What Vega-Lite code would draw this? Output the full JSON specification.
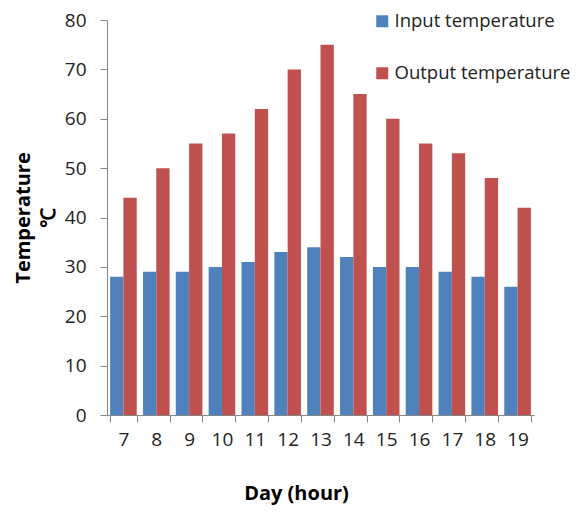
{
  "$schema": "https://vega.github.io/schema/vega-lite/v6.json",
  "width": 427,
  "height": 395,
  "autosize": "none",
  "padding": {"left": 107, "top": 20, "right": 42, "bottom": 97},
  "config": {"view": {"stroke": null}, "font": "Open Sans"},
  "data": {
    "values": [
      {"hour": 7, "series": "Input temperature", "temp": 28},
      {"hour": 8, "series": "Input temperature", "temp": 29},
      {"hour": 9, "series": "Input temperature", "temp": 29},
      {"hour": 10, "series": "Input temperature", "temp": 30},
      {"hour": 11, "series": "Input temperature", "temp": 31},
      {"hour": 12, "series": "Input temperature", "temp": 33},
      {"hour": 13, "series": "Input temperature", "temp": 34},
      {"hour": 14, "series": "Input temperature", "temp": 32},
      {"hour": 15, "series": "Input temperature", "temp": 30},
      {"hour": 16, "series": "Input temperature", "temp": 30},
      {"hour": 17, "series": "Input temperature", "temp": 29},
      {"hour": 18, "series": "Input temperature", "temp": 28},
      {"hour": 19, "series": "Input temperature", "temp": 26},
      {"hour": 7, "series": "Output temperature", "temp": 44},
      {"hour": 8, "series": "Output temperature", "temp": 50},
      {"hour": 9, "series": "Output temperature", "temp": 55},
      {"hour": 10, "series": "Output temperature", "temp": 57},
      {"hour": 11, "series": "Output temperature", "temp": 62},
      {"hour": 12, "series": "Output temperature", "temp": 70},
      {"hour": 13, "series": "Output temperature", "temp": 75},
      {"hour": 14, "series": "Output temperature", "temp": 65},
      {"hour": 15, "series": "Output temperature", "temp": 60},
      {"hour": 16, "series": "Output temperature", "temp": 55},
      {"hour": 17, "series": "Output temperature", "temp": 53},
      {"hour": 18, "series": "Output temperature", "temp": 48},
      {"hour": 19, "series": "Output temperature", "temp": 42}
    ]
  },
  "mark": {"type": "bar"},
  "encoding": {
    "x": {
      "field": "hour",
      "type": "ordinal",
      "scale": {"paddingInner": 0.19, "paddingOuter": 0.095},
      "axis": {
        "labelAngle": 0,
        "labelFontSize": 19,
        "labelColor": "#222222",
        "tickBand": "extent",
        "tickSize": 7,
        "tickColor": "#868686",
        "domainColor": "#868686",
        "labelPadding": 8,
        "title": "Day (hour)",
        "titleFontSize": 20,
        "titleFontWeight": "bold",
        "titleColor": "#000000",
        "titlePadding": 34,
        "titleX": 189
      }
    },
    "xOffset": {"field": "series", "sort": ["Input temperature", "Output temperature"]},
    "y": {
      "field": "temp",
      "type": "quantitative",
      "scale": {"domain": [0, 80]},
      "axis": {
        "values": [0, 10, 20, 30, 40, 50, 60, 70, 80],
        "grid": false,
        "labelFontSize": 19,
        "labelColor": "#222222",
        "tickSize": 7,
        "tickColor": "#868686",
        "domainColor": "#868686",
        "labelPadding": 14,
        "title": ["Temperature", "℃"],
        "titleFontSize": 20,
        "titleFontWeight": "bold",
        "titleColor": "#000000",
        "titlePadding": 6,
        "titleLineHeight": 25
      }
    },
    "color": {
      "field": "series",
      "type": "nominal",
      "scale": {"domain": ["Input temperature", "Output temperature"], "range": ["#4F81BD", "#C0504D"]},
      "legend": {
        "orient": "none",
        "legendX": 266,
        "legendY": -8,
        "direction": "vertical",
        "title": null,
        "symbolType": "square",
        "symbolSize": 144,
        "symbolStrokeWidth": 0,
        "labelFontSize": 18.5,
        "labelLimit": 400,
        "labelColor": "#222222",
        "labelOffset": 3,
        "rowPadding": 33
      }
    }
  }
}
